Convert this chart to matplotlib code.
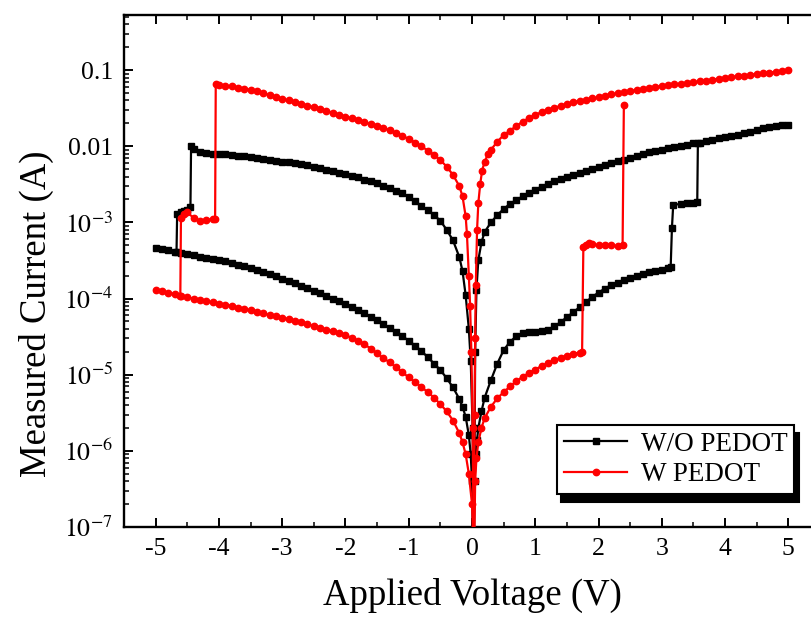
import matplotlib
matplotlib.use("Agg")
import matplotlib.pyplot as plt
from matplotlib.ticker import LogLocator, NullFormatter, FixedLocator, MultipleLocator

# ---------------- data ----------------
# W/O PEDOT (black)
bk_hrs_pos_v = [0.02, 0.04, 0.06, 0.08, 0.1, 0.15, 0.2, 0.3, 0.4, 0.5, 0.6, 0.7, 0.8, 0.9, 1.0,
                1.1, 1.2, 1.3, 1.4, 1.5, 1.6, 1.7, 1.8, 1.9, 2.0, 2.1, 2.2, 2.3, 2.4, 2.5, 2.6,
                2.7, 2.8, 2.9, 3.0, 3.1, 3.14, 3.16, 3.18, 3.3, 3.4, 3.5, 3.56, 3.57]
bk_hrs_pos_i = [3e-8, 4e-7, 9e-7, 1.4e-6, 2e-6, 3.3e-6, 5e-6, 8.5e-6, 1.4e-5, 2.1e-5, 2.7e-5, 3.2e-5,
                3.5e-5, 3.6e-5, 3.6e-5, 3.7e-5, 3.9e-5, 4.3e-5, 4.9e-5, 5.7e-5, 6.6e-5, 7.7e-5,
                9e-5, 1.05e-4, 1.2e-4, 1.35e-4, 1.5e-4, 1.62e-4, 1.75e-4, 1.88e-4, 2.0e-4, 2.1e-4,
                2.2e-4, 2.3e-4, 2.4e-4, 2.55e-4, 2.6e-4, 8.5e-4, 1.7e-3, 1.75e-3, 1.8e-3, 1.8e-3,
                1.85e-3, 1.1e-2]

bk_lrs_pos_v = [0.03, 0.05, 0.07, 0.1, 0.15, 0.2, 0.3, 0.4, 0.5, 0.6, 0.7, 0.8, 0.9, 1.0, 1.1, 1.2,
                1.3, 1.4, 1.5, 1.6, 1.7, 1.8, 1.9, 2.0, 2.1, 2.2, 2.3, 2.4, 2.5, 2.6, 2.7, 2.8, 2.9,
                3.0, 3.1, 3.2, 3.3, 3.4, 3.5, 3.6, 3.7, 3.8, 3.9, 4.0, 4.1, 4.2, 4.3, 4.4, 4.5,
                4.6, 4.7, 4.8, 4.9, 5.0]
bk_lrs_pos_i = [3e-8, 2e-5, 1.3e-4, 3.2e-4, 5.5e-4, 7.5e-4, 1.0e-3, 1.25e-3, 1.5e-3, 1.75e-3,
                1.97e-3, 2.2e-3, 2.45e-3, 2.7e-3, 2.95e-3, 3.2e-3, 3.45e-3, 3.7e-3, 3.95e-3,
                4.2e-3, 4.5e-3, 4.8e-3, 5.1e-3, 5.4e-3, 5.7e-3, 6.0e-3, 6.35e-3, 6.7e-3, 7.1e-3,
                7.5e-3, 7.9e-3, 8.3e-3, 8.65e-3, 9.0e-3, 9.4e-3, 9.8e-3, 1.02e-2, 1.05e-2,
                1.09e-2, 1.12e-2, 1.17e-2, 1.22e-2, 1.27e-2, 1.32e-2, 1.37e-2, 1.42e-2, 1.48e-2,
                1.55e-2, 1.63e-2, 1.72e-2, 1.8e-2, 1.85e-2, 1.9e-2, 1.92e-2]

bk_lrs_neg_v = [0.03, 0.01, -0.02, -0.05, -0.1, -0.15, -0.2, -0.3, -0.4, -0.5, -0.6, -0.7, -0.8,
                -0.9, -1.0, -1.1, -1.2, -1.3, -1.4, -1.5, -1.6, -1.7, -1.8, -1.9, -2.0, -2.1, -2.2,
                -2.3, -2.4, -2.5, -2.6, -2.7, -2.8, -2.9, -3.0, -3.1, -3.2, -3.3, -3.4, -3.5, -3.6,
                -3.7, -3.8, -3.9, -4.0, -4.1, -4.2, -4.3, -4.4, -4.44, -4.45, -4.5, -4.55, -4.6,
                -4.66, -4.67]
bk_lrs_neg_i = [3e-8, 2e-6, 1.5e-5, 4e-5, 1.1e-4, 2.3e-4, 3.5e-4, 5.8e-4, 8e-4, 1.05e-3, 1.25e-3,
                1.45e-3, 1.65e-3, 1.9e-3, 2.15e-3, 2.4e-3, 2.6e-3, 2.8e-3, 3.05e-3, 3.25e-3,
                3.45e-3, 3.65e-3, 3.9e-3, 4.1e-3, 4.3e-3, 4.5e-3, 4.75e-3, 4.95e-3, 5.2e-3,
                5.4e-3, 5.6e-3, 5.8e-3, 6.0e-3, 6.15e-3, 6.3e-3, 6.5e-3, 6.7e-3, 6.85e-3, 7.0e-3,
                7.2e-3, 7.35e-3, 7.5e-3, 7.65e-3, 7.8e-3, 7.9e-3, 8.0e-3, 8.2e-3, 8.5e-3, 9.2e-3,
                1.0e-2, 1.6e-3, 1.45e-3, 1.4e-3, 1.35e-3, 1.3e-3, 4.1e-4]

bk_hrs_neg_v = [-5.0, -4.9, -4.8, -4.7, -4.6, -4.5, -4.4, -4.3, -4.2, -4.1, -4.0, -3.9, -3.8, -3.7,
                -3.6, -3.5, -3.4, -3.3, -3.2, -3.1, -3.0, -2.9, -2.8, -2.7, -2.6, -2.5, -2.4, -2.3,
                -2.2, -2.1, -2.0, -1.9, -1.8, -1.7, -1.6, -1.5, -1.4, -1.3, -1.2, -1.1, -1.0, -0.9,
                -0.8, -0.7, -0.6, -0.5, -0.4, -0.3, -0.2, -0.15, -0.1, -0.05, -0.02, 0.0, 0.02]
bk_hrs_neg_i = [4.6e-4, 4.45e-4, 4.3e-4, 4.15e-4, 4.0e-4, 3.85e-4, 3.7e-4, 3.55e-4, 3.45e-4,
                3.35e-4, 3.25e-4, 3.1e-4, 2.95e-4, 2.8e-4, 2.65e-4, 2.5e-4, 2.35e-4, 2.2e-4,
                2.08e-4, 1.95e-4, 1.82e-4, 1.7e-4, 1.58e-4, 1.47e-4, 1.36e-4, 1.26e-4, 1.17e-4,
                1.08e-4, 1.0e-4, 9.2e-5, 8.5e-5, 7.8e-5, 7.1e-5, 6.4e-5, 5.8e-5, 5.2e-5, 4.6e-5,
                4.1e-5, 3.6e-5, 3.2e-5, 2.8e-5, 2.4e-5, 2.05e-5, 1.7e-5, 1.4e-5, 1.15e-5, 9e-6,
                6.8e-6, 4.8e-6, 3.8e-6, 2.8e-6, 1.6e-6, 9e-7, 4e-7, 3e-8]

# W PEDOT (red)
rd_hrs_pos_v = [0.03, 0.05, 0.07, 0.1, 0.15, 0.2, 0.3, 0.4, 0.5, 0.6, 0.7, 0.8, 0.9, 1.0, 1.1,
                1.2, 1.3, 1.4, 1.5, 1.6, 1.7, 1.74, 1.76, 1.8, 1.85, 1.9, 2.0, 2.1, 2.2, 2.3,
                2.38, 2.40]
rd_hrs_pos_i = [3e-8, 4e-7, 8e-7, 1.3e-6, 2e-6, 2.7e-6, 3.8e-6, 4.9e-6, 5.9e-6, 7e-6, 8.2e-6,
                9.4e-6, 1.05e-5, 1.17e-5, 1.3e-5, 1.42e-5, 1.55e-5, 1.67e-5, 1.78e-5, 1.88e-5,
                1.95e-5, 2.0e-5, 4.8e-4, 5.0e-4, 5.3e-4, 5.2e-4, 5.0e-4, 5.1e-4, 5.0e-4, 4.9e-4,
                5.0e-4, 3.5e-2]

rd_lrs_pos_v = [0.03, 0.04, 0.05, 0.06, 0.08, 0.1, 0.13, 0.16, 0.2, 0.25, 0.3, 0.4, 0.5, 0.6, 0.7,
                0.8, 0.9, 1.0, 1.1, 1.2, 1.3, 1.4, 1.5, 1.6, 1.7, 1.8, 1.9, 2.0, 2.1, 2.2, 2.3, 2.4,
                2.5, 2.6, 2.7, 2.8, 2.9, 3.0, 3.1, 3.2, 3.3, 3.4, 3.5, 3.6, 3.7, 3.8, 3.9, 4.0,
                4.1, 4.2, 4.3, 4.4, 4.5, 4.6, 4.7, 4.8, 4.9, 5.0]
rd_lrs_pos_i = [3e-8, 3e-6, 3e-5, 1.5e-4, 8e-4, 1.8e-3, 3.2e-3, 4.8e-3, 6.3e-3, 7.8e-3, 9e-3,
                1.15e-2, 1.4e-2, 1.6e-2, 1.85e-2, 2.1e-2, 2.35e-2, 2.6e-2, 2.8e-2, 3.0e-2, 3.2e-2,
                3.4e-2, 3.6e-2, 3.8e-2, 3.95e-2, 4.1e-2, 4.25e-2, 4.4e-2, 4.6e-2, 4.8e-2, 4.95e-2,
                5.1e-2, 5.3e-2, 5.5e-2, 5.65e-2, 5.8e-2, 6.0e-2, 6.2e-2, 6.35e-2, 6.5e-2, 6.65e-2,
                6.8e-2, 6.95e-2, 7.1e-2, 7.3e-2, 7.5e-2, 7.7e-2, 7.9e-2, 8.1e-2, 8.3e-2, 8.5e-2,
                8.7e-2, 8.9e-2, 9.1e-2, 9.3e-2, 9.5e-2, 9.7e-2, 1.0e-1]

rd_lrs_neg_v = [0.03, 0.01, -0.01, -0.03, -0.05, -0.08, -0.1, -0.15, -0.2, -0.3, -0.4, -0.5, -0.6,
                -0.7, -0.8, -0.9, -1.0, -1.1, -1.2, -1.3, -1.4, -1.5, -1.6, -1.7, -1.8, -1.9, -2.0,
                -2.1, -2.2, -2.3, -2.4, -2.5, -2.6, -2.7, -2.8, -2.9, -3.0, -3.1, -3.2, -3.3, -3.4,
                -3.5, -3.6, -3.7, -3.8, -3.9, -4.0, -4.05, -4.06, -4.1, -4.2, -4.3, -4.4, -4.5,
                -4.55, -4.6, -4.61]
rd_lrs_neg_i = [3e-8, 2e-6, 2e-5, 8e-5, 2e-4, 7e-4, 1.2e-3, 2.2e-3, 3.0e-3, 4.2e-3, 5.4e-3,
                6.6e-3, 7.7e-3, 8.8e-3, 1.0e-2, 1.12e-2, 1.25e-2, 1.37e-2, 1.5e-2, 1.62e-2,
                1.75e-2, 1.85e-2, 1.95e-2, 2.07e-2, 2.2e-2, 2.32e-2, 2.45e-2, 2.6e-2, 2.75e-2,
                2.92e-2, 3.1e-2, 3.25e-2, 3.4e-2, 3.6e-2, 3.8e-2, 4.0e-2, 4.2e-2, 4.45e-2, 4.7e-2,
                5.0e-2, 5.3e-2, 5.5e-2, 5.7e-2, 5.9e-2, 6.1e-2, 6.25e-2, 6.4e-2, 6.6e-2, 1.1e-3,
                1.1e-3, 1.08e-3, 1.05e-3, 1.15e-3, 1.35e-3, 1.3e-3, 1.15e-3, 1.07e-4]

rd_hrs_neg_v = [-5.0, -4.9, -4.8, -4.7, -4.6, -4.5, -4.4, -4.3, -4.2, -4.1, -4.0, -3.9, -3.8, -3.7,
                -3.6, -3.5, -3.4, -3.3, -3.2, -3.1, -3.0, -2.9, -2.8, -2.7, -2.6, -2.5, -2.4, -2.3,
                -2.2, -2.1, -2.0, -1.9, -1.8, -1.7, -1.6, -1.5, -1.4, -1.3, -1.2, -1.1, -1.0, -0.9,
                -0.8, -0.7, -0.6, -0.5, -0.4, -0.3, -0.2, -0.15, -0.1, -0.05, 0.0, 0.03]
rd_hrs_neg_i = [1.3e-4, 1.25e-4, 1.2e-4, 1.14e-4, 1.08e-4, 1.04e-4, 1.0e-4, 9.6e-5, 9.3e-5,
                8.9e-5, 8.6e-5, 8.3e-5, 8.0e-5, 7.6e-5, 7.3e-5, 7.0e-5, 6.7e-5, 6.4e-5, 6.1e-5,
                5.85e-5, 5.6e-5, 5.35e-5, 5.1e-5, 4.85e-5, 4.6e-5, 4.35e-5, 4.1e-5, 3.9e-5, 3.7e-5,
                3.5e-5, 3.3e-5, 3.05e-5, 2.8e-5, 2.5e-5, 2.2e-5, 1.9e-5, 1.65e-5, 1.45e-5, 1.25e-5,
                1.08e-5, 9.2e-6, 8e-6, 6.9e-6, 5.9e-6, 5e-6, 4.1e-6, 3.3e-6, 2.5e-6, 1.7e-6,
                1.3e-6, 9e-7, 5e-7, 2e-7, 3e-8]

labels = ["W/O PEDOT", "W PEDOT"]
x_ticks = [-5, -4, -3, -2, -1, 0, 1, 2, 3, 4, 5]
x_tick_labels = ["-5", "-4", "-3", "-2", "-1", "0", "1", "2", "3", "4", "5"]
y_ticks = [1e-7, 1e-6, 1e-5, 1e-4, 1e-3, 1e-2, 1e-1]
y_tick_labels = [r"$10^{-7}$", r"$10^{-6}$", r"$10^{-5}$", r"$10^{-4}$", r"$10^{-3}$", "0.01", "0.1"]

# ---------------- style ----------------
plt.rcParams['font.family'] = ['Liberation Serif', 'DejaVu Serif']
plt.rcParams['mathtext.fontset'] = 'stix'

fig = plt.figure(figsize=(8.11, 6.17), dpi=100)
ax = fig.add_axes([0.1529, 0.1459, 0.8582, 0.8298])

black_segments = [(bk_hrs_pos_v, bk_hrs_pos_i), (bk_lrs_pos_v, bk_lrs_pos_i),
                  (bk_lrs_neg_v, bk_lrs_neg_i), (bk_hrs_neg_v, bk_hrs_neg_i)]
red_segments = [(rd_hrs_pos_v, rd_hrs_pos_i), (rd_lrs_pos_v, rd_lrs_pos_i),
                (rd_lrs_neg_v, rd_lrs_neg_i), (rd_hrs_neg_v, rd_hrs_neg_i)]

for k, (v, i) in enumerate(black_segments):
    ax.plot(v, i, color='black', lw=1.6, marker='s', ms=4.3, mec='black', mfc='black',
            label=labels[0] if k == 0 else None, zorder=3)
for k, (v, i) in enumerate(red_segments):
    ax.plot(v, i, color='#ff0000', lw=1.6, marker='o', ms=4.6, mec='#ff0000', mfc='#ff0000',
            label=labels[1] if k == 0 else None, zorder=4)

ax.set_yscale('log')
ax.set_xlim(-5.5, 5.5)
ax.set_ylim(1e-7, 0.53)

ax.xaxis.set_major_locator(FixedLocator(x_ticks))
ax.set_xticklabels(x_tick_labels)
ax.xaxis.set_minor_locator(MultipleLocator(0.5))
ax.yaxis.set_major_locator(FixedLocator(y_ticks))
ax.set_yticklabels(y_tick_labels)
ax.yaxis.set_minor_locator(LogLocator(base=10, subs=[2, 3, 4, 5, 6, 7, 8, 9], numticks=20))
ax.yaxis.set_minor_formatter(NullFormatter())

ax.tick_params(which='both', direction='in', top=True, right=True, labelsize=18.5)
ax.tick_params(which='major', length=6.5, width=1.4, pad=8)
ax.tick_params(which='minor', length=3.5, width=1.1)
for s in ax.spines.values():
    s.set_linewidth(1.7)

ax.set_xlabel("Applied Voltage (V)", fontsize=26.5)
ax.set_ylabel("Measured Current (A)", fontsize=26.5)
ax.xaxis.set_label_coords(0.5, -0.1)
ax.yaxis.set_label_coords(-0.1, 0.416)

leg = ax.legend(loc='upper left', bbox_to_anchor=(557 / 811, (617 - 425) / 617),
                bbox_transform=fig.transFigure, borderaxespad=0, fontsize=19.5,
                fancybox=False, edgecolor='black', framealpha=1,
                handlelength=2.35, handletextpad=0.5, borderpad=0.25, labelspacing=0.2,
                shadow={'ox': 3, 'oy': -6, 'facecolor': 'black', 'edgecolor': 'black', 'alpha': 1})
leg.get_frame().set_linewidth(1.5)

fig.savefig("out.png", dpi=100)
